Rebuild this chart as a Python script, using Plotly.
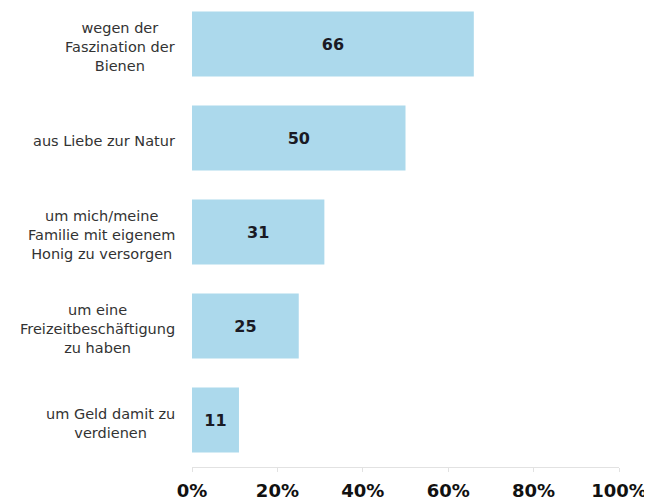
import plotly.graph_objects as go

categories = [
    "wegen der<br>Faszination der<br>Bienen",
    "aus Liebe zur Natur",
    "um mich/meine<br>Familie mit eigenem<br>Honig zu versorgen",
    "um eine<br>Freizeitbeschäftigung<br>zu haben",
    "um Geld damit zu<br>verdienen",
]
values = [66, 50, 31, 25, 11]
tick_values = [0, 20, 40, 60, 80, 100]
tick_labels = ["0%", "20%", "40%", "60%", "80%", "100%"]

fig = go.Figure()
fig.add_trace(go.Bar(
    x=values,
    y=categories,
    orientation="h",
    marker=dict(color="#acd9ec", line=dict(width=0)),
    text=[str(v) for v in values],
    textposition="inside",
    insidetextanchor="middle",
    textfont=dict(family="DejaVu Sans", size=16, color="#1a1a24", weight="bold"),
    width=0.69,
    hoverinfo="skip",
))

for c in categories:
    fig.add_annotation(
        x=-0.035, xref="paper", y=c, yref="y", yshift=-3,
        text=c, showarrow=False, xanchor="right", align="center",
        font=dict(family="DejaVu Sans", size=14.5, color="#333333"),
    )

fig.update_layout(
    width=652, height=500,
    margin=dict(l=184, r=41, t=0, b=41, autoexpand=False),
    paper_bgcolor="white", plot_bgcolor="white",
    showlegend=False,
    xaxis=dict(
        range=[0, 100], tickvals=tick_values, ticktext=tick_labels,
        showgrid=False, zeroline=False, automargin=False,
        showline=True, linecolor="#e2e2e2", linewidth=1,
        ticks="outside", ticklen=4, tickcolor="#e2e2e2",
        tickfont=dict(family="DejaVu Sans", size=18, color="#111111", weight="bold"),
        ticklabelstandoff=3,
    ),
    yaxis=dict(
        type="category", categoryorder="array", categoryarray=categories,
        range=[4.5, -0.383], showticklabels=False, showgrid=False,
        zeroline=False, showline=False, ticks="", automargin=False,
    ),
)

fig.write_html("out.html")
